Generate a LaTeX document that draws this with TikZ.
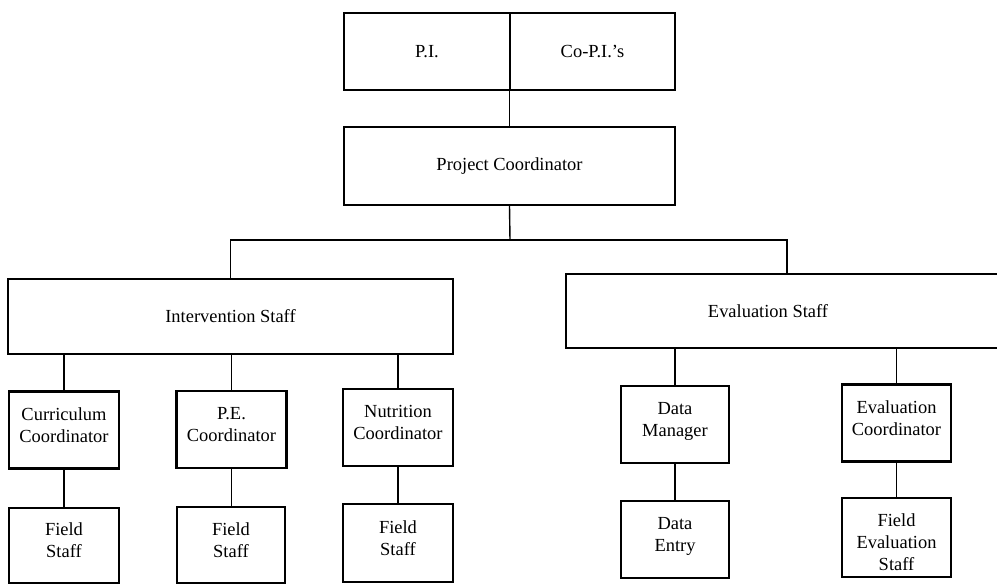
\documentclass[tikz,border=0pt]{standalone}
\usepackage{fontspec}
\setmainfont{Liberation Serif}
\usetikzlibrary{positioning}

\begin{document}
\begin{tikzpicture}[x=0.02cm,y=-0.02cm,
    box/.style={draw,line width=1.3pt,align=center,inner sep=2pt,font=\fontsize{10.5}{12.5}\selectfont},
    unit/.style={box,minimum width=2.2cm,minimum height=1.54cm,text depth=6pt},
    head/.style={box,minimum height=1.54cm},
    link/.style={line width=0.8pt}]
    \useasboundingbox (0,0) rectangle (997,584);
    \clip (0,0) rectangle (997,584);
    % top
    \node[head,minimum width=3.32cm] (pi) at (427,51.5) {P.I.};
    \node[head,minimum width=3.3cm] (copi) at (592.5,51.5) {Co-P.I.'s};
    \node[head,minimum width=6.62cm,minimum height=1.56cm] (pc) at (509.5,166) {Project Coordinator};
    \draw[link] (pc.north) -- (pc.north |- pi.south);
    % staff groups
    \node[head,minimum width=8.9cm,minimum height=1.5cm] (interv) at (230.5,316.5) {Intervention Staff};
    \node[head,minimum width=9.5cm,minimum height=1.48cm,anchor=west] (evalbox) at (565,311) {};
    \node[font=\fontsize{10.5}{12.5}\selectfont] (evals) at (768,311) {Evaluation Staff};
    \coordinate (split) at (510,240);
    \coordinate (evaltop) at (787,274);
    \draw[link] (pc.south) -- (split);
    \draw[link] (interv.north) |- (split) -| (evaltop);
    % coordinators
    \node[unit] (cur) at (64,430) {Curriculum\\Coordinator};
    \node[unit] (pe) at (231.5,429.5) {P.E.\\Coordinator};
    \node[unit] (nut) at (398,427.5) {Nutrition\\Coordinator};
    \node[unit,minimum width=2.16cm] (dm) at (675,424.5) {Data\\Manager};
    \node[unit,minimum width=2.18cm] (ec) at (896.5,423) {Evaluation\\Coordinator};
    \draw[link] (cur.north) -- (cur.north |- interv.south);
    \draw[link] (pe.north) -- (pe.north |- interv.south);
    \draw[link] (nut.north) -- (nut.north |- interv.south);
    \draw[link] (dm.north) -- (dm.north |- evalbox.south);
    \draw[link] (ec.north) -- (ec.north |- evalbox.south);
    % field level
    \node[unit,minimum height=1.5cm] (fs1) at (64,545.5) {Field\\Staff};
    \node[unit,minimum width=2.16cm,minimum height=1.52cm] (fs2) at (231,545) {Field\\Staff};
    \node[unit,minimum height=1.56cm] (fs3) at (398,543) {Field\\Staff};
    \node[unit,minimum width=2.16cm] (de) at (675,539.5) {Data\\Entry};
    \node[unit,minimum width=2.18cm,minimum height=1.58cm,text depth=0pt,text height=37.5pt] (fes) at (896.5,537.5) {Field\\Evaluation\\Staff};
    \draw[link] (cur.south) -- (fs1.north);
    \draw[link] (pe.south) -- (pe.south |- fs2.north);
    \draw[link] (nut.south) -- (fs3.north);
    \draw[link] (dm.south) -- (de.north);
    \draw[link] (ec.south) -- (fes.north);
\end{tikzpicture}
\end{document}
